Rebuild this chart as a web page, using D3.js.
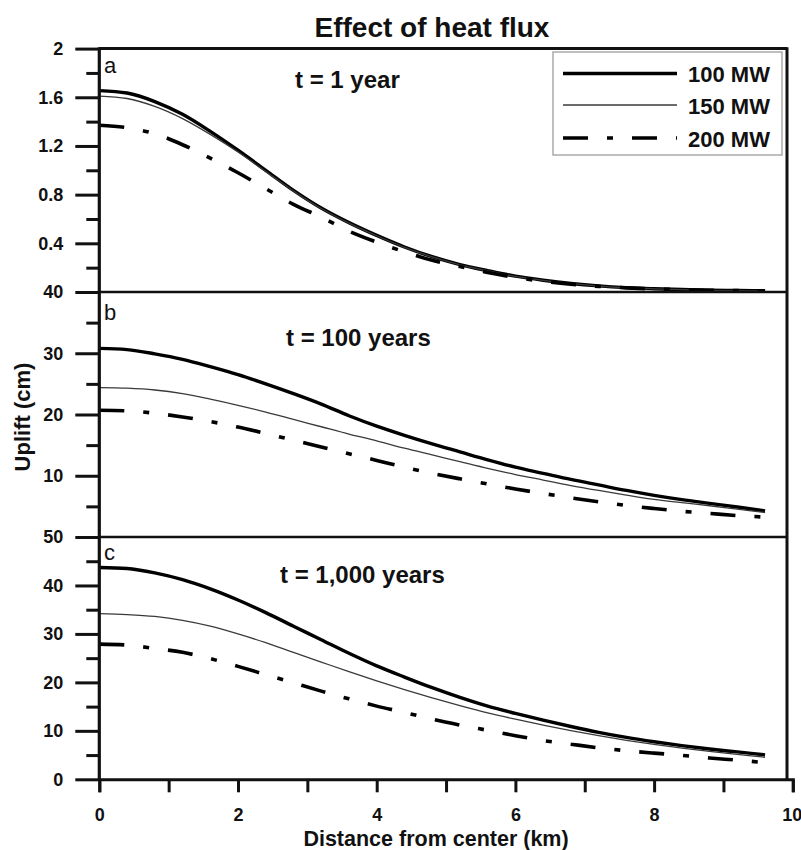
<!DOCTYPE html>
<html><head><meta charset="utf-8">
<script src="https://cdn.jsdelivr.net/npm/d3@7"></script>
<style>
body{margin:0;background:#fff}
svg{display:block}
text{font-family:"Liberation Sans",Arial,Helvetica,sans-serif;fill:#111}
</style>
</head><body>
<svg id="chart" width="801" height="850"></svg>
<script>
// ---------------- data ----------------
const distanceKm = [0,0.4,0.8,1.2,1.6,2.0,2.4,2.8,3.2,3.6,4.0,4.4,4.8,5.2,5.6,6.0,6.4,6.8,7.2,7.6,8.0,8.4,8.8,9.2,9.6];
const seriesNames = ["100 MW","150 MW","200 MW"];
const panelLetters = ["a","b","c"];
const panelTimes = ["t = 1 year","t = 100 years","t = 1,000 years"];

// panel a: t = 1 year (uplift, cm)
const upliftA100 = [1.655,1.635,1.565,1.46,1.32,1.165,1.0,0.835,0.69,0.57,0.465,0.37,0.29,0.225,0.175,0.13,0.097,0.07,0.05,0.036,0.027,0.02,0.015,0.012,0.01];
const upliftA150 = [1.61,1.59,1.525,1.425,1.295,1.15,0.99,0.83,0.686,0.566,0.462,0.367,0.288,0.223,0.173,0.128,0.095,0.068,0.049,0.035,0.026,0.019,0.014,0.011,0.009];
const upliftA200 = [1.37,1.35,1.30,1.21,1.10,0.98,0.85,0.72,0.615,0.50,0.41,0.33,0.26,0.21,0.16,0.12,0.088,0.064,0.046,0.034,0.025,0.019,0.015,0.012,0.01];
// panel b: t = 100 years
const upliftB100 = [30.8,30.6,29.9,29.0,27.8,26.5,25.0,23.4,21.7,19.8,18.1,16.6,15.2,13.9,12.6,11.4,10.4,9.4,8.5,7.6,6.8,6.1,5.5,4.9,4.25];
const upliftB150 = [24.4,24.3,24.0,23.4,22.5,21.5,20.4,19.2,18.0,16.8,15.7,14.5,13.4,12.3,11.2,10.2,9.3,8.4,7.6,6.85,6.15,5.6,5.1,4.55,4.0];
const upliftB200 = [20.7,20.6,20.2,19.6,18.85,17.95,16.9,15.8,14.7,13.6,12.5,11.4,10.4,9.5,8.65,7.85,7.1,6.4,5.75,5.15,4.65,4.2,3.85,3.5,3.25];
// panel c: t = 1,000 years
const upliftC100 = [43.7,43.5,42.6,41.2,39.3,37.0,34.4,31.6,28.8,26.0,23.4,21.1,18.9,16.9,15.1,13.6,12.2,10.9,9.7,8.65,7.75,6.95,6.25,5.65,5.05];
const upliftC150 = [34.2,34.0,33.6,32.8,31.6,30.0,28.2,26.2,24.2,22.2,20.3,18.5,16.8,15.2,13.7,12.4,11.2,10.05,9.0,8.05,7.2,6.45,5.75,5.15,4.55];
const upliftC200 = [27.9,27.7,27.0,26.2,24.9,23.3,21.6,19.9,18.2,16.6,15.1,13.8,12.4,11.2,10.1,9.0,8.0,7.25,6.5,5.9,5.4,4.95,4.4,3.95,3.45];

// ticks
const xMajorTicks = [0,2,4,6,8,10];
const xMinorTicks = [1,3,5,7,9];
const yMajorA = [0.4,0.8,1.2,1.6,2];
const yMinorA = [0.2,0.6,1.0,1.4,1.8];
const yMajorB = [10,20,30,40];
const yMinorB = [5,15,25,35];
const yMajorC = [0,10,20,30,40,50];
const yMinorC = [5,15,25,35,45];
const yMaxA = 2, yMaxB = 40, yMaxC = 50;

// ---------------- layout ----------------
const svg = d3.select("#chart");
const left = 99.3, right = 792.8, frameRight = 787;
const x = d3.scaleLinear().domain([0,10]).range([left,right]);

const panels = [
  {top:48.6, bottom:292, max:yMaxA, major:yMajorA, minor:yMinorA, series:[upliftA100,upliftA150,upliftA200], letterY:73, timeX:295, timeY:88},
  {top:292, bottom:537, max:yMaxB, major:yMajorB, minor:yMinorB, series:[upliftB100,upliftB150,upliftB200], letterY:320, timeX:286, timeY:346},
  {top:537, bottom:779.3, max:yMaxC, major:yMajorC, minor:yMinorC, series:[upliftC100,upliftC150,upliftC200], letterY:560, timeX:280, timeY:583}
];
const styles = [
  {w:3.4, color:"#000", dash:null},
  {w:1.3, color:"#3a3a3a", dash:null},
  {w:3.6, color:"#000", dash:"25,19,6,19"}
];

panels.forEach((p,i)=>{
  const y = d3.scaleLinear().domain([0,p.max]).range([p.bottom,p.top]);
  const line = d3.line().x((d,k)=>x(distanceKm[k])).y(d=>y(d)).curve(d3.curveMonotoneX);
  p.series.forEach((s,j)=>{
    const st = styles[j];
    svg.append("path").datum(s).attr("d",line)
      .attr("fill","none").attr("stroke",st.color).attr("stroke-width",st.w)
      .attr("stroke-dasharray",st.dash).attr("stroke-linecap","butt");
  });
  const gMaj = svg.append("g").attr("transform",`translate(${left},0)`)
    .call(d3.axisLeft(y).tickValues(p.major).tickSize(24).tickPadding(12).tickFormat(d=>String(d)));
  gMaj.select(".domain").remove();
  gMaj.selectAll("line").attr("stroke","#111").attr("stroke-width",3);
  gMaj.selectAll("text").style("font-size","18px").style("font-weight","bold").attr("fill","#111");
  const gMin = svg.append("g").attr("transform",`translate(${left},0)`)
    .call(d3.axisLeft(y).tickValues(p.minor).tickSize(13).tickFormat(""));
  gMin.select(".domain").remove();
  gMin.selectAll("line").attr("stroke","#111").attr("stroke-width",3);

  svg.append("text").attr("x",104).attr("y",p.letterY)
    .style("font-size","22px").text(panelLetters[i]);
  svg.append("text").attr("x",p.timeX).attr("y",p.timeY)
    .style("font-size","24px").style("font-weight","bold").text(panelTimes[i]);
});

// frame
const frame = svg.append("g").attr("stroke","#111").attr("fill","none");
frame.append("line").attr("x1",left).attr("x2",frameRight).attr("y1",48.6).attr("y2",48.6).attr("stroke-width",3);
frame.append("line").attr("x1",left).attr("x2",frameRight).attr("y1",292).attr("y2",292).attr("stroke-width",2.6);
frame.append("line").attr("x1",left).attr("x2",frameRight).attr("y1",537).attr("y2",537).attr("stroke-width",2.6);
frame.append("line").attr("x1",frameRight).attr("x2",frameRight).attr("y1",47.2).attr("y2",779.3).attr("stroke-width",3);
frame.append("line").attr("x1",left).attr("x2",left).attr("y1",47.2).attr("y2",780).attr("stroke-width",3.2);

// x axis
const gx = svg.append("g").attr("transform","translate(0,779.3)")
  .call(d3.axisBottom(x).tickValues(xMajorTicks).tickSize(13).tickPadding(16).tickFormat(d=>String(d)));
gx.select(".domain").attr("stroke","#111").attr("stroke-width",3);
gx.selectAll("line").attr("stroke","#111").attr("stroke-width",3);
gx.selectAll("text").style("font-size","18px").style("font-weight","bold").attr("fill","#111")
  .attr("text-anchor",d=>d===10?"end":"middle").attr("dx",d=>d===10?"9":"0");
const gx2 = svg.append("g").attr("transform","translate(0,779.3)")
  .call(d3.axisBottom(x).tickValues(xMinorTicks).tickSize(13).tickFormat(""));
gx2.select(".domain").remove();
gx2.selectAll("line").attr("stroke","#111").attr("stroke-width",3);

// titles
svg.append("text").attr("x",432).attr("y",36.5).attr("text-anchor","middle")
  .style("font-size","28px").style("font-weight","bold").text("Effect of heat flux");
svg.append("text").attr("x",436).attr("y",846).attr("text-anchor","middle")
  .style("font-size","21.5px").style("font-weight","bold").text("Distance from center (km)");
svg.append("text").attr("transform","translate(30,417) rotate(-90)").attr("text-anchor","middle")
  .style("font-size","22px").style("font-weight","bold").text("Uplift (cm)");

// legend
const lg = svg.append("g");
lg.append("rect").attr("x",553).attr("y",52).attr("width",229).attr("height",103)
  .attr("fill","#fff").attr("stroke","#aaa").attr("stroke-width",1.5);
const legendY = [73.5,105,138];
seriesNames.forEach((n,j)=>{
  const st = styles[j];
  lg.append("line").attr("x1",563).attr("x2",677).attr("y1",legendY[j]).attr("y2",legendY[j])
    .attr("stroke",st.color).attr("stroke-width",st.w).attr("stroke-dasharray",st.dash);
  lg.append("text").attr("x",688).attr("y",legendY[j]+8.5)
    .style("font-size","22px").style("font-weight","bold").text(n);
});
</script>
</body></html>
